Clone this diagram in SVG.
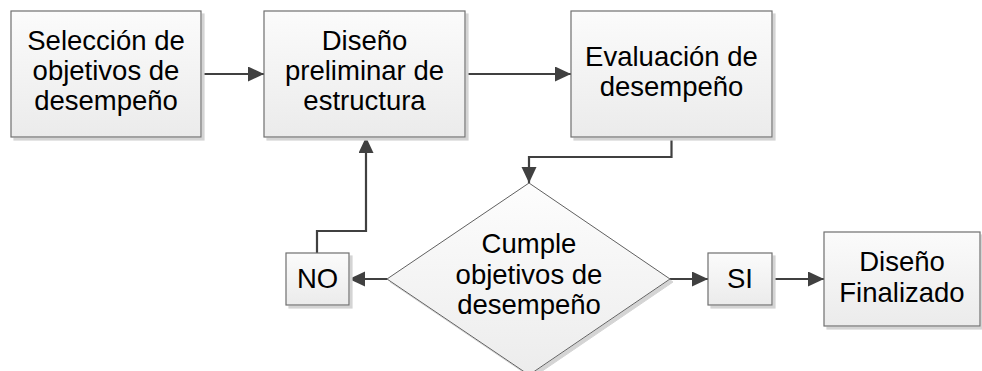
<svg xmlns="http://www.w3.org/2000/svg" width="982" height="371" viewBox="0 0 982 371">
<defs>
<linearGradient id="g" x1="0" y1="0" x2="0" y2="1">
<stop offset="0" stop-color="#fbfbfb"/>
<stop offset="1" stop-color="#ebebeb"/>
</linearGradient>
<linearGradient id="gd" x1="0" y1="0" x2="0" y2="1">
<stop offset="0" stop-color="#fdfdfd"/>
<stop offset="1" stop-color="#ececec"/>
</linearGradient>
<marker id="arr" markerUnits="userSpaceOnUse" markerWidth="17" markerHeight="16" refX="16" refY="7.5" orient="auto">
<path d="M0,0 L16,7.5 L0,15 Z" fill="#404040"/>
</marker>
<filter id="sh" x="-10%" y="-10%" width="130%" height="130%">
<feOffset dx="3" dy="3" in="SourceAlpha" result="o"/>
<feFlood flood-color="#d4d4d4"/>
<feComposite in2="o" operator="in"/>
<feMerge><feMergeNode/><feMergeNode in="SourceGraphic"/></feMerge>
</filter>
</defs>
<style>
.box{fill:url(#g);stroke:#707070;stroke-width:1.2;filter:url(#sh)}
.dia{fill:url(#gd);stroke:#606060;stroke-width:1;filter:url(#sh)}
.t{font-family:"Liberation Sans",Arial,sans-serif;font-size:27.5px;fill:#000;text-anchor:middle}
.c{fill:none;stroke:#404040;stroke-width:2.2;marker-end:url(#arr)}
</style>
<g id="connectors">
<path class="c" d="M201,74 H264"/>
<path class="c" d="M465,74 H571"/>
<path class="c" d="M671.5,137 V157 H529 V183"/>
<path class="c" d="M387,279 H349"/>
<path class="c" d="M317,253 V231 H366 V137"/>
<path class="c" d="M670,279 H708"/>
<path class="c" d="M772,279 H824"/>
</g>
<g id="n1">
<rect class="box" x="11" y="11" width="190" height="126"/>
<text class="t" x="106" y="49.5">Selección de</text>
<text class="t" x="106" y="79.5">objetivos de</text>
<text class="t" x="106" y="109.5">desempeño</text>
</g>
<g id="n2">
<rect class="box" x="264" y="11" width="201" height="126"/>
<text class="t" x="364.5" y="49.5">Diseño</text>
<text class="t" x="364.5" y="79.5">preliminar de</text>
<text class="t" x="364.5" y="109.5">estructura</text>
</g>
<g id="n3">
<rect class="box" x="571" y="11" width="201" height="126"/>
<text class="t" x="671.5" y="65.5">Evaluación de</text>
<text class="t" x="671.5" y="95.5">desempeño</text>
</g>
<g id="n4">
<polygon class="dia" points="529,183 670,279 529,375 387,279"/>
<text class="t" x="529" y="253">Cumple</text>
<text class="t" x="529" y="283.5">objetivos de</text>
<text class="t" x="529" y="314">desempeño</text>
</g>
<g id="n5">
<rect class="box" x="286" y="253" width="63" height="52"/>
<text class="t" x="317.5" y="287.5">NO</text>
</g>
<g id="n6">
<rect class="box" x="708" y="253" width="64" height="52"/>
<text class="t" x="740" y="287.5">SI</text>
</g>
<g id="n7">
<rect class="box" x="824" y="232" width="156" height="94"/>
<text class="t" x="902" y="271">Diseño</text>
<text class="t" x="902" y="302">Finalizado</text>
</g>
</svg>
